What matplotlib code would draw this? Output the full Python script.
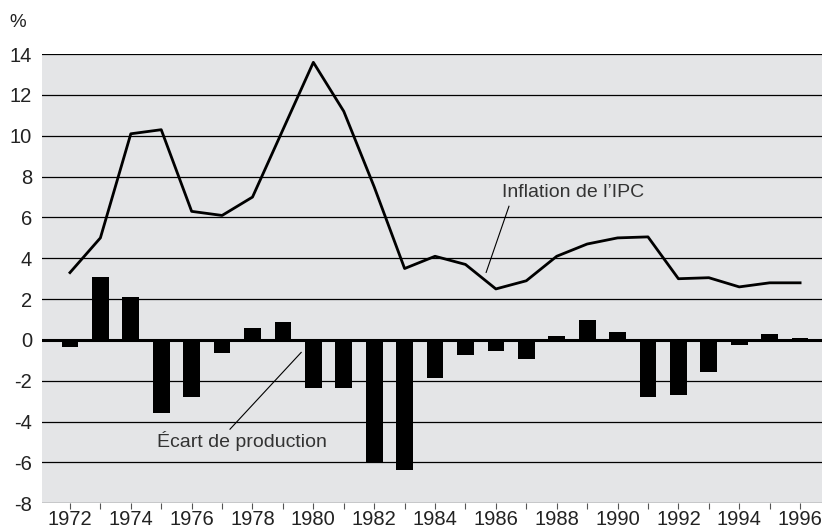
import numpy as np
import matplotlib.pyplot as plt

plt.rcParams['font.family'] = ['Liberation Sans', 'DejaVu Sans']
plt.rcParams['axes.unicode_minus'] = False

years = np.arange(1972, 1997)
inflation = [3.3, 5.0, 10.1, 10.3, 6.3, 6.1, 7.0, 10.3, 13.6, 11.2, 7.5, 3.5,
             4.1, 3.7, 2.5, 2.9, 4.1, 4.7, 5.0, 5.05, 3.0, 3.05, 2.6, 2.8, 2.8]
output_gap = [-0.35, 3.1, 2.1, -3.6, -2.8, -0.65, 0.6, 0.9, -2.35, -2.35, -6.05, -6.35,
              -1.85, -0.75, -0.55, -0.95, 0.2, 1.0, 0.4, -2.8, -2.7, -1.55, -0.25, 0.3, 0.1]
yticks = np.arange(-8, 15, 2)

fig = plt.figure(figsize=(8.22, 5.29), dpi=100)
ax = fig.add_axes([0.0507, 0.0486, 0.9493, 0.849])
ax.set_facecolor('#e4e5e7')

for y in yticks:
    ax.axhline(y, color='black', lw=0.9, zorder=1)
ax.axhline(0, color='black', lw=2.2, zorder=3)

ax.bar(years, output_gap, width=0.55, color='black', zorder=2)
ax.plot(years, inflation, color='black', lw=2.0, zorder=4)

ax.set_xlim(1971.07, 1996.72)
ax.set_ylim(-8, 14)
ax.set_yticks(yticks)
ax.set_xticks(years)
ax.set_xticklabels([str(y) if y % 2 == 0 else '' for y in years])
ax.tick_params(axis='y', length=0, pad=7, labelsize=14.5, labelcolor='#222222')
ax.tick_params(axis='x', length=4, width=0.8, color='#555555', pad=1,
               labelsize=14.5, labelcolor='#222222')
for s in ax.spines.values():
    s.set_visible(False)

ax.text(1986.2, 7.2, "Inflation de l\u2019IPC", fontsize=14, color='#333333',
        va='center', ha='left')
ax.plot([1986.43, 1985.68], [6.55, 3.31], color='black', lw=0.8, zorder=5)
ax.text(1974.85, -4.95, "\u00c9cart de production", fontsize=14, color='#333333',
        va='center', ha='left')
ax.plot([1977.26, 1979.6], [-4.37, -0.61], color='black', lw=0.8, zorder=5)

fig.text(0.012, 0.958, '%', fontsize=13.5, color='#222222', va='center', ha='left')

fig.savefig('out.png', dpi=100)
